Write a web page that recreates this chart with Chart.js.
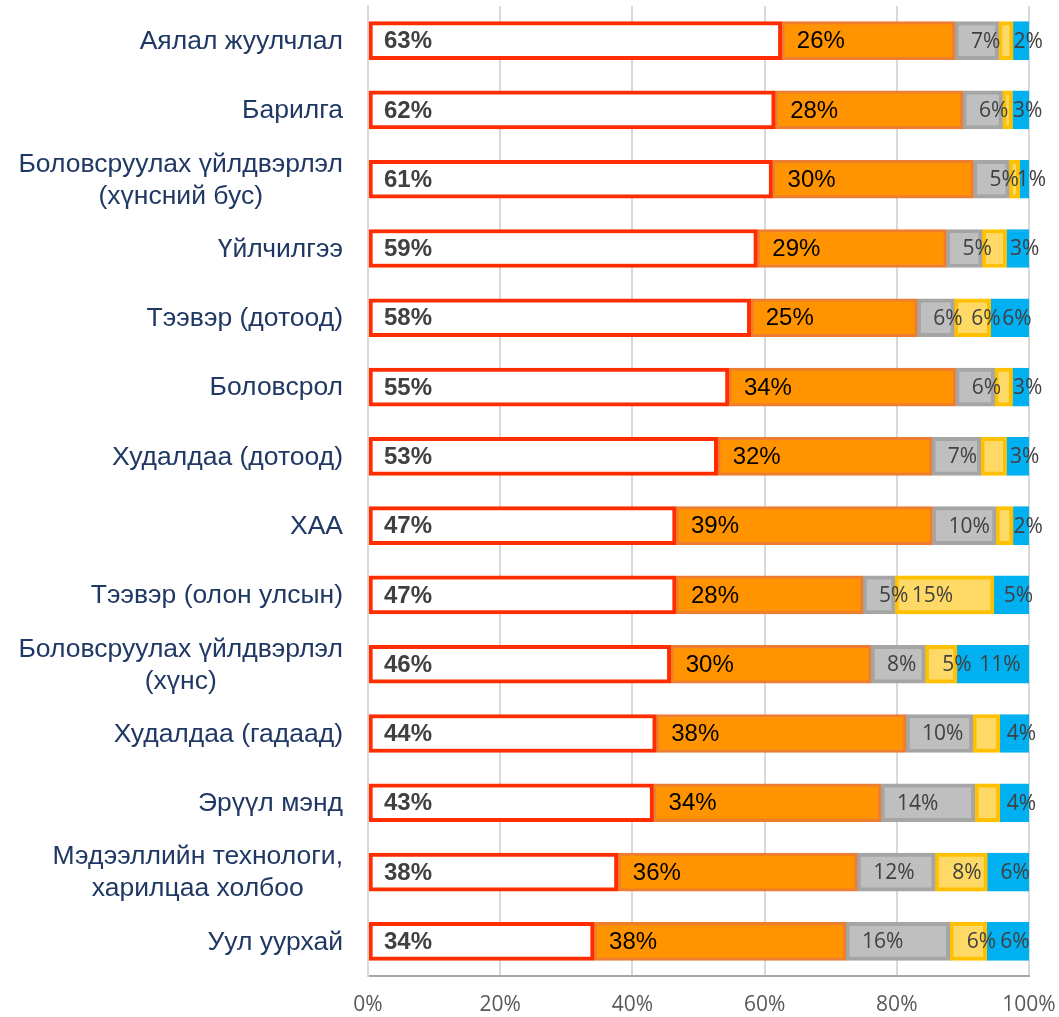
<!DOCTYPE html>
<html>
<head>
<meta charset="utf-8">
<script src="https://cdn.jsdelivr.net/npm/chart.js@4"></script>
<style>
  html, body { margin: 0; padding: 0; background: #ffffff; }
  #wrap { width: 1059px; height: 1017px; }
</style>
</head>
<body>
<div id="wrap"><canvas id="c" width="1059" height="1017"></canvas></div>
<script>
// ---- Data ----
const categories = [
  'Аялал жуулчлал',
  'Барилга',
  ['Боловсруулах үйлдвэрлэл', '(хүнсний бус)'],
  'Үйлчилгээ',
  'Тээвэр (дотоод)',
  'Боловсрол',
  'Худалдаа (дотоод)',
  'ХАА',
  'Тээвэр (олон улсын)',
  ['Боловсруулах үйлдвэрлэл', '(хүнс)'],
  'Худалдаа (гадаад)',
  'Эрүүл мэнд',
  ['Мэдээллийн технологи,', 'харилцаа холбоо'],
  'Уул уурхай'
];
const series1 = [62.6, 61.6, 61.2, 58.9, 57.9, 54.6, 52.9, 46.6, 46.6, 45.8, 43.6, 43.2, 37.8, 34.2];
const series2 = [26.2, 28.4, 30.4, 28.6, 25.2, 34.3, 32.4, 38.8, 28.3, 30.3, 37.8, 34.4, 36.2, 38.1];
const series3 = [6.6, 6.0, 5.4, 5.4, 5.6, 5.9, 7.4, 9.6, 4.8, 8.2, 10.1, 14.2, 11.8, 15.7];
const series4 = [2.2, 1.5, 1.6, 3.7, 5.5, 2.7, 3.9, 2.6, 15.0, 4.8, 4.1, 3.8, 7.9, 5.6];
const series5 = [2.4, 2.5, 1.4, 3.4, 5.8, 2.5, 3.4, 2.4, 5.3, 10.9, 4.4, 4.4, 6.3, 6.4];
const xTicks = [0, 20, 40, 60, 80, 100];

// ---- Styles ----
const labelStyles = [
  { font: 'bold 24px "Liberation Sans", Arial, sans-serif', color: '#404040', mode: 'base', off: 15, min: 0 },
  { font: '24px "Liberation Sans", Arial, sans-serif', color: '#000000', mode: 'base', off: 15, min: 0 },
  { font: '21px "Open Sans", sans-serif', color: '#404040', mode: 'base', off: 16, min: 0 },
  { font: '21px "Open Sans", sans-serif', color: '#404040', mode: 'base', off: 17, min: 4.7 },
  { font: '21px "Open Sans", sans-serif', color: '#404040', mode: 'center', off: 7, min: 0 }
];

const dataLabelPlugin = {
  id: 'segLabels',
  afterDatasetsDraw(chart) {
    const ctx = chart.ctx;
    ctx.save();
    ctx.textBaseline = 'middle';
    chart.data.datasets.forEach((ds, di) => {
      const meta = chart.getDatasetMeta(di);
      const st = labelStyles[di];
      meta.data.forEach((bar, i) => {
        const v = ds.data[i];
        if (v < st.min) return;
        const p = bar.getProps(['x', 'y', 'base'], true);
        const left = Math.min(p.x, p.base), right = Math.max(p.x, p.base);
        ctx.font = st.font;
        ctx.fillStyle = st.color;
        const txt = Math.round(v) + '%';
        if (st.mode === 'base') {
          ctx.textAlign = 'left';
          ctx.fillText(txt, left + st.off, p.y + 1);
        } else {
          ctx.textAlign = 'center';
          ctx.fillText(txt, (left + right) / 2 + st.off, p.y + 1);
        }
      });
    });
    ctx.restore();
  }
};

const yLabelPlugin = {
  id: 'yLabels',
  afterDraw(chart) {
    const ctx = chart.ctx;
    const ys = chart.scales.y;
    ctx.save();
    ctx.font = '26.5px "Liberation Sans", Arial, sans-serif';
    ctx.fillStyle = '#203864';
    ctx.textBaseline = 'middle';
    ctx.textAlign = 'center';
    const rightEdge = 343;
    const lh = 32;
    categories.forEach((lab, i) => {
      const lines = Array.isArray(lab) ? lab : [lab];
      const w = Math.max(...lines.map(l => ctx.measureText(l).width));
      const cx = rightEdge - w / 2;
      const cy = ys.getPixelForValue(i);
      const y0 = cy - (lines.length - 1) * lh / 2;
      lines.forEach((l, k) => ctx.fillText(l, cx, y0 + k * lh + 1));
    });
    ctx.restore();
  }
};

const common = { borderSkipped: false, barThickness: 38 };
new Chart(document.getElementById('c'), {
  type: 'bar',
  data: {
    labels: categories.map(c => Array.isArray(c) ? c.join(' ') : c),
    datasets: [
      Object.assign({ label: 'S1', data: series1, backgroundColor: '#FFFFFF', borderColor: '#FF2D00', borderWidth: 4 }, common),
      Object.assign({ label: 'S2', data: series2, backgroundColor: '#FF9300', borderColor: '#ED7D31', borderWidth: 3 }, common),
      Object.assign({ label: 'S3', data: series3, backgroundColor: '#BFBFBF', borderColor: '#A5A5A5', borderWidth: 4 }, common),
      Object.assign({ label: 'S4', data: series4, backgroundColor: '#FFD966', borderColor: '#FFC000', borderWidth: 4 }, common),
      Object.assign({ label: 'S5', data: series5, backgroundColor: '#00B0F0', borderColor: '#00B0F0', borderWidth: 2 }, common)
    ]
  },
  options: {
    indexAxis: 'y',
    responsive: false,
    animation: false,
    layout: { padding: { top: 6, right: 30, left: 0, bottom: 0 } },
    plugins: { legend: { display: false }, tooltip: { enabled: false } },
    scales: {
      x: {
        stacked: true,
        min: 0, max: 100,
        afterBuildTicks(scale) { scale.ticks = xTicks.map(v => ({ value: v })); },
        afterFit(scale) { scale.height = 41; scale.paddingRight = 0; scale.paddingLeft = 0; },
        ticks: {
          callback: v => v + '%',
          color: '#595959',
          font: { family: '"Open Sans", sans-serif', size: 21 },
          padding: 16,
          maxRotation: 0
        },
        grid: { color: '#D9D9D9', lineWidth: 2, drawTicks: false },
        border: { display: true, color: '#A6A6A6', width: 2 }
      },
      y: {
        stacked: true,
        afterFit(scale) { scale.width = 368; },
        ticks: { display: false },
        grid: { display: false },
        border: { display: true, color: '#D9D9D9', width: 2 }
      }
    }
  },
  plugins: [dataLabelPlugin, yLabelPlugin]
});
</script>
</body>
</html>
